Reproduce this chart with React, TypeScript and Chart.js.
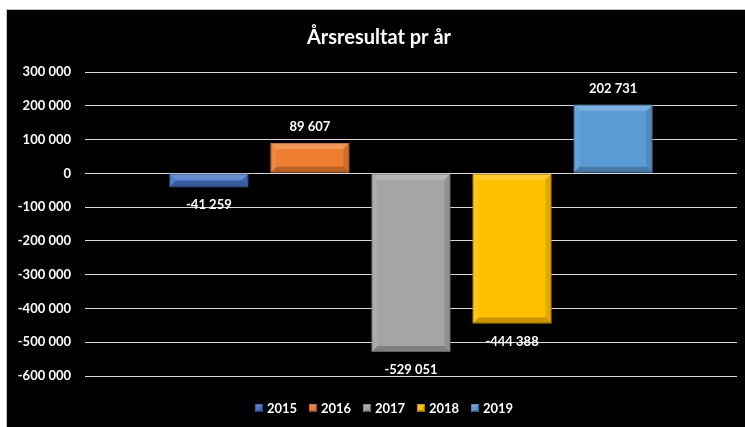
import React, { useEffect, useRef } from "react";
import { Chart, registerables } from "chart.js";
Chart.register(...registerables);

const chartTitle = "Årsresultat pr år";
const years = ["2015", "2016", "2017", "2018", "2019"];
const results = [-41259, 89607, -529051, -444388, 202731];
const barColors = ["#4472C4", "#ED7D31", "#A5A5A5", "#FFC000", "#5B9BD5"];
const yMin = -600000;
const yMax = 300000;
const yStep = 100000;

const FONT = "Lato, 'Open Sans', 'DejaVu Sans', sans-serif";

const fmt = (n: number) =>
  (n < 0 ? "-" : "") + Math.abs(n).toString().replace(/\B(?=(\d{3})+(?!\d))/g, " ");

function bevel(ctx: CanvasRenderingContext2D, l: number, t: number, r: number, b: number, bw: number) {
  const h = b - t;
  const w = r - l;
  const e = Math.min(bw, h / 2, w / 2);
  const poly = (pts: number[][], fill: string) => {
    ctx.beginPath();
    ctx.moveTo(pts[0][0], pts[0][1]);
    for (let i = 1; i < pts.length; i++) ctx.lineTo(pts[i][0], pts[i][1]);
    ctx.closePath();
    ctx.fillStyle = fill;
    ctx.fill();
  };
  poly([[l, t], [r, t], [r - e, t + e], [l + e, t + e]], "rgba(255,255,255,0.2)");
  poly([[l, t], [l + e, t + e], [l + e, b - e], [l, b]], "rgba(255,255,255,0.08)");
  poly([[r, t], [r, b], [r - e, b - e], [r - e, t + e]], "rgba(0,0,0,0.12)");
  poly([[l, b], [r, b], [r - e, b - e], [l + e, b - e]], "rgba(0,0,0,0.22)");
  ctx.strokeStyle = "rgba(0,0,0,0.25)";
  ctx.lineWidth = 1;
  ctx.strokeRect(l + 0.5, t + 0.5, w - 1, h - 1);
}

const decorPlugin = {
  id: "decor",
  afterDatasetsDraw(chart: any) {
    const ctx: CanvasRenderingContext2D = chart.ctx;
    ctx.save();
    chart.data.datasets.forEach((ds: any, i: number) => {
      const meta = chart.getDatasetMeta(i);
      meta.data.forEach((bar: any, j: number) => {
        const { x, y, base, width } = bar.getProps(["x", "y", "base", "width"], true);
        const l = x - width / 2;
        const r = x + width / 2;
        const t = Math.min(y, base);
        const b = Math.max(y, base);
        bevel(ctx, l, t, r, b, 6);
        const v = ds.data[j];
        ctx.fillStyle = "#ffffff";
        ctx.font = `bold 13px ${FONT}`;
        ctx.textAlign = "center";
        ctx.textBaseline = "middle";
        ctx.fillText(fmt(v), x, v >= 0 ? y - 16 : y + 18);
      });
    });
    ctx.restore();
  },
  afterDraw(chart: any) {
    const ctx: CanvasRenderingContext2D = chart.ctx;
    ctx.save();
    ctx.fillStyle = "#ffffff";
    ctx.font = `bold 20px ${FONT}`;
    ctx.textAlign = "center";
    ctx.textBaseline = "middle";
    ctx.fillText(chartTitle, 372, 28);
    // legend
    ctx.font = `bold 13px ${FONT}`;
    ctx.textAlign = "left";
    const ly = 398;
    years.forEach((yr, i) => {
      const sx = 248 + i * 54;
      ctx.fillStyle = barColors[i];
      ctx.fillRect(sx, ly - 4, 8, 8);
      bevel(ctx, sx, ly - 4, sx + 8, ly + 4, 2);
      ctx.fillStyle = "#ffffff";
      ctx.fillText(yr, sx + 12, ly + 1);
    });
    ctx.restore();
  },
};

export default function App() {
  const ref = useRef<HTMLCanvasElement | null>(null);
  useEffect(() => {
    if (!ref.current) return;
    const chart = new Chart(ref.current, {
      type: "bar",
      data: {
        labels: [""],
        datasets: years.map((yr, i) => ({
          label: yr,
          data: [results[i]],
          backgroundColor: barColors[i],
          borderWidth: 0,
          categoryPercentage: 0.775,
          barPercentage: 0.78,
        })),
      },
      options: {
        responsive: true,
        maintainAspectRatio: false,
        animation: false,
        layout: { padding: { top: 62, bottom: 51, left: 0, right: 8 } },
        plugins: {
          legend: { display: false },
          title: { display: false },
          tooltip: { enabled: false },
        },
        scales: {
          x: { display: false },
          y: {
            min: yMin,
            max: yMax,
            afterFit: (s: any) => {
              s.width = 78;
            },
            border: { display: false },
            grid: { color: "#d9d9d9", lineWidth: 1, drawTicks: false },
            ticks: {
              stepSize: yStep,
              padding: 14,
              color: "#ffffff",
              font: { family: FONT, size: 13, weight: "bold" },
              callback: (v: any) => fmt(Number(v)),
            },
          },
        },
      },
      plugins: [decorPlugin],
    });
    return () => chart.destroy();
  }, []);

  return (
    <div style={{ position: "absolute", left: 0, top: 0, width: 745, height: 427, background: "#ffffff" }}>
      <div style={{ position: "absolute", left: 6, top: 9, width: 739, height: 418, background: "#bfbfbf" }} />
      <div style={{ position: "absolute", left: 7, top: 10, width: 738, height: 417, background: "#000000" }}>
        <canvas ref={ref} />
      </div>
    </div>
  );
}
